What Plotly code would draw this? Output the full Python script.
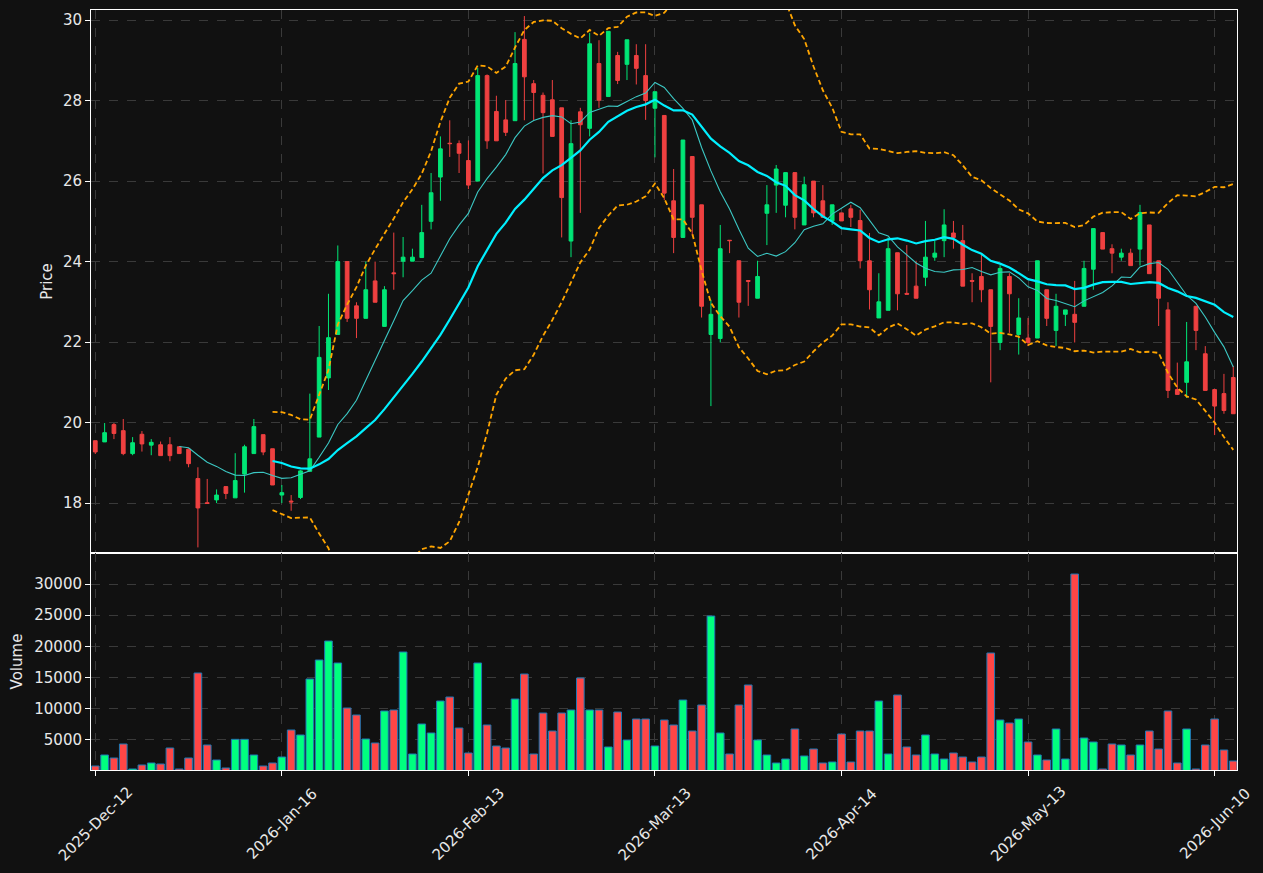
import pandas as pd
import plotly.graph_objects as go
from plotly.subplots import make_subplots

# ---- data ----
open_ = [19.55, 19.52, 19.95, 19.80, 19.23, 19.71, 19.44, 19.45, 19.45, 19.40,
         19.34, 18.61, 18.01, 18.08, 18.41, 18.13, 18.72, 19.23, 19.70, 19.35,
         18.20, 18.05, 18.14, 18.79, 19.64, 21.11, 22.19, 24.00, 22.90, 22.59,
         23.52, 22.39, 23.72, 24.01, 24.01, 24.10, 25.00, 26.10, 26.94, 26.93,
         26.51, 26.00, 28.62, 27.73, 27.52, 27.50, 29.52, 28.42, 28.13, 28.02,
         27.82, 24.51, 27.72, 27.31, 28.92, 28.10, 29.12, 28.90, 29.12, 28.62,
         27.81, 27.63, 25.51, 24.60, 26.61, 25.41, 22.19, 22.09, 24.53, 24.02,
         23.53, 23.09, 25.20, 25.90, 25.40, 26.21, 24.91, 26.00, 25.51, 25.01,
         25.21, 25.31, 25.02, 24.02, 22.60, 22.79, 24.22, 23.21, 23.39, 23.61,
         24.11, 24.52, 24.71, 24.52, 23.53, 23.63, 23.30, 21.99, 23.63, 22.19,
         22.10, 22.10, 23.30, 22.29, 22.69, 22.69, 22.89, 23.81, 24.72, 24.32,
         24.11, 24.21, 24.31, 24.91, 24.02, 22.80, 20.82, 21.00, 22.89, 21.71,
         20.82, 20.72, 21.12]
high = [19.55, 19.99, 19.99, 20.09, 19.64, 19.79, 19.59, 19.53, 19.64, 19.40,
        19.36, 18.89, 18.60, 18.34, 18.41, 19.24, 19.45, 20.09, 19.70, 19.35,
        18.45, 18.20, 18.82, 20.72, 22.40, 23.20, 24.40, 24.00, 22.99, 24.00,
        24.00, 23.39, 24.72, 24.61, 24.32, 25.41, 26.20, 27.11, 27.51, 27.01,
        27.01, 28.81, 28.65, 28.12, 28.01, 29.70, 30.10, 28.51, 28.20, 28.51,
        27.82, 27.51, 27.82, 29.68, 29.50, 29.72, 29.21, 29.51, 29.40, 29.40,
        28.22, 27.63, 26.30, 27.02, 26.61, 25.41, 23.05, 24.91, 24.53, 24.02,
        23.53, 24.02, 25.90, 26.40, 26.21, 26.21, 26.11, 26.00, 25.90, 25.41,
        25.21, 25.41, 25.29, 24.71, 23.71, 24.60, 24.22, 24.41, 24.02, 25.01,
        24.52, 25.30, 25.01, 24.91, 23.71, 24.21, 23.30, 23.91, 23.71, 23.09,
        22.60, 24.02, 23.30, 23.20, 22.80, 23.52, 24.02, 24.82, 24.72, 24.43,
        24.32, 24.32, 25.41, 24.91, 24.02, 22.99, 21.49, 22.50, 22.89, 21.90,
        20.82, 21.21, 21.41]
low = [19.22, 19.52, 19.59, 19.19, 19.19, 19.28, 19.19, 19.18, 19.04, 19.23,
       18.89, 16.90, 17.99, 18.00, 18.10, 18.13, 18.26, 19.23, 19.19, 18.45,
       18.00, 17.81, 18.10, 18.79, 19.64, 20.81, 22.19, 22.50, 22.10, 22.59,
       22.99, 22.39, 23.30, 23.61, 24.01, 24.10, 24.80, 25.51, 26.60, 26.20,
       25.80, 26.00, 26.80, 27.00, 27.12, 27.50, 27.51, 27.51, 26.19, 27.11,
       24.60, 24.11, 25.21, 27.11, 27.82, 28.10, 28.41, 28.51, 28.40, 27.52,
       26.59, 25.53, 24.21, 24.60, 24.65, 22.61, 20.41, 21.99, 24.21, 22.61,
       22.90, 23.09, 24.41, 25.21, 25.10, 24.80, 24.91, 25.10, 25.10, 24.91,
       25.01, 24.86, 23.83, 22.81, 22.60, 22.79, 22.79, 23.19, 23.09, 23.39,
       24.02, 24.11, 24.32, 23.39, 22.99, 22.99, 21.00, 21.80, 22.23, 21.69,
       21.90, 22.10, 22.40, 21.90, 22.40, 21.99, 22.89, 23.30, 24.31, 23.71,
       24.02, 23.90, 23.90, 23.70, 22.40, 20.61, 20.70, 20.61, 21.80, 20.80,
       19.69, 20.22, 20.22]
close = [19.27, 19.75, 19.73, 19.23, 19.50, 19.47, 19.51, 19.18, 19.18, 19.23,
         18.98, 17.88, 17.99, 18.20, 18.24, 18.56, 19.40, 19.90, 19.27, 18.45,
         18.26, 18.03, 18.80, 19.10, 21.62, 22.11, 24.00, 22.59, 22.59, 23.30,
         22.99, 23.30, 23.70, 24.11, 24.11, 24.72, 25.71, 26.80, 26.93, 26.69,
         25.90, 28.62, 27.00, 27.00, 27.21, 28.92, 28.59, 28.20, 27.70, 27.11,
         25.59, 26.93, 27.40, 29.41, 28.01, 29.72, 28.50, 29.51, 28.80, 28.00,
         28.22, 25.70, 24.60, 27.02, 25.10, 22.89, 22.69, 24.32, 24.52, 22.99,
         23.51, 23.63, 25.41, 26.30, 26.21, 25.10, 25.91, 25.21, 25.10, 25.41,
         25.01, 25.10, 24.02, 23.30, 23.00, 24.32, 23.20, 23.19, 23.09, 24.11,
         24.21, 24.91, 24.60, 23.39, 23.51, 23.30, 22.39, 23.83, 23.20, 22.60,
         21.99, 24.02, 22.59, 22.89, 22.80, 22.49, 23.83, 24.82, 24.31, 24.21,
         24.21, 23.90, 25.22, 23.70, 23.09, 20.80, 20.70, 21.51, 22.29, 20.80,
         20.41, 20.30, 20.22]
volume = [833, 2596, 2115, 4359, 353, 994, 1314, 1154, 3718, 353,
          2115, 15737, 4199, 1795, 513, 5107, 5107, 2596, 833, 1314,
          2276, 6603, 5801, 14776, 17821, 20865, 17340, 10128, 9006, 5160,
          4519, 9647, 9808, 19103, 2756, 7564, 6122, 11250, 11891, 6923,
          2917, 17340, 7404, 4038, 3718, 11571, 15577, 2756, 9327, 6442,
          9327, 9808, 14936, 9808, 9808, 3878, 9487, 5000, 8365, 8365,
          4038, 8205, 7404, 11410, 6442, 10609, 24872, 6122, 2756, 10609,
          13814, 5000, 2596, 1314, 1955, 6763, 2436, 3558, 1314, 1474,
          5962, 1474, 6442, 6442, 11250, 2756, 12212, 3878, 2596, 5801,
          2756, 1955, 2917, 2276, 1474, 2276, 18942, 8205, 7724, 8365,
          4679, 2596, 1795, 6763, 1955, 31603, 5321, 4679, 353, 4359,
          4199, 2596, 4199, 6442, 3558, 9647, 1314, 6763, 353, 4199,
          8365, 3397, 1635]
tick_labels = ["2025-Dec-12", "2026-Jan-16", "2026-Feb-13", "2026-Mar-13",
               "2026-Apr-14", "2026-May-13", "2026-Jun-10"]
tick_index = [0, 20, 40, 60, 80, 100, 120]
price_ticks = [18, 20, 22, 24, 26, 28, 30]
volume_ticks = [5000, 10000, 15000, 20000, 25000, 30000]

bar_index = list(range(len(close)))

# ---- indicators derived from the closes ----
cs = pd.Series(close)
ma10 = cs.rolling(10).mean()
ma20 = cs.rolling(20).mean()
sd20 = cs.rolling(20).std()
upper = ma20 + 2 * sd20
lower = ma20 - 2 * sd20

UP_C = "#00e676"
DN_C = "#ef4040"
VOL_UP = "#00ff7f"
VOL_DN = "#ff4646"
BG = "#111111"
GRID = "#3a3a3a"
TXT = "#e8e8e8"
FONT = "DejaVu Sans"
FS = 15

fig = make_subplots(rows=2, cols=1, shared_xaxes=True, vertical_spacing=0,
                    row_heights=[0.7145, 0.2855])

fig.add_trace(go.Candlestick(
    x=bar_index, open=open_, high=high, low=low, close=close,
    increasing=dict(line=dict(color=UP_C, width=1), fillcolor=UP_C),
    decreasing=dict(line=dict(color=DN_C, width=1), fillcolor=DN_C),
    whiskerwidth=0, showlegend=False), row=1, col=1)

fig.add_trace(go.Scatter(x=bar_index, y=ma10, mode="lines",
                         line=dict(color="#3cc8c4", width=1.1),
                         showlegend=False), row=1, col=1)
fig.add_trace(go.Scatter(x=bar_index, y=ma20, mode="lines",
                         line=dict(color="#00f0ff", width=2.2),
                         showlegend=False), row=1, col=1)
for band in (upper, lower):
    fig.add_trace(go.Scatter(x=bar_index, y=band, mode="lines",
                             line=dict(color="#ffa500", width=1.8, dash="5px,3px"),
                             showlegend=False), row=1, col=1)

vol_colors = [VOL_UP if c >= o else VOL_DN for o, c in zip(open_, close)]
fig.add_trace(go.Bar(x=bar_index, y=volume, width=0.82,
                     marker=dict(color=vol_colors,
                                 line=dict(color="#1f77b4", width=1)),
                     showlegend=False), row=2, col=1)

axis_common = dict(showline=True, mirror=True, linecolor="white", linewidth=1,
                   ticks="outside", tickcolor="white", ticklen=5,
                   showgrid=True, gridcolor=GRID, griddash="dash", gridwidth=1,
                   zeroline=False, tickfont=dict(color=TXT, size=FS, family=FONT))

fig.update_xaxes(**axis_common, range=[-0.46, 122.4],
                 tickmode="array", tickvals=tick_index, ticktext=tick_labels,
                 showticklabels=False, rangeslider_visible=False)

# rotated date labels centred under their ticks (matplotlib style)
for xi, lab in zip(tick_index, tick_labels):
    fig.add_annotation(x=xi, xref="x2", y=-0.071, yref="paper",
                       text=lab, textangle=-45, showarrow=False,
                       xanchor="center", yanchor="middle",
                       font=dict(color=TXT, size=FS, family=FONT))

fig.update_yaxes(**axis_common)
fig.update_yaxes(range=[16.76, 30.25], tickmode="array", tickvals=price_ticks,
                 ticktext=[str(v) for v in price_ticks],
                 title=dict(text="Price", font=dict(color=TXT, size=FS, family=FONT),
                            standoff=6), row=1, col=1)
fig.update_yaxes(range=[190, 34970], tickmode="array", tickvals=volume_ticks,
                 ticktext=[str(v) for v in volume_ticks],
                 title=dict(text="Volume", font=dict(color=TXT, size=FS, family=FONT),
                            standoff=8), row=2, col=1)

fig.update_layout(
    width=1263, height=873,
    margin=dict(l=91, r=26, t=10, b=103),
    paper_bgcolor=BG, plot_bgcolor=BG,
    boxgap=0.43, bargap=0.1,
    font=dict(family=FONT, color=TXT, size=FS),
    showlegend=False,
)

fig.write_html("out.html")
